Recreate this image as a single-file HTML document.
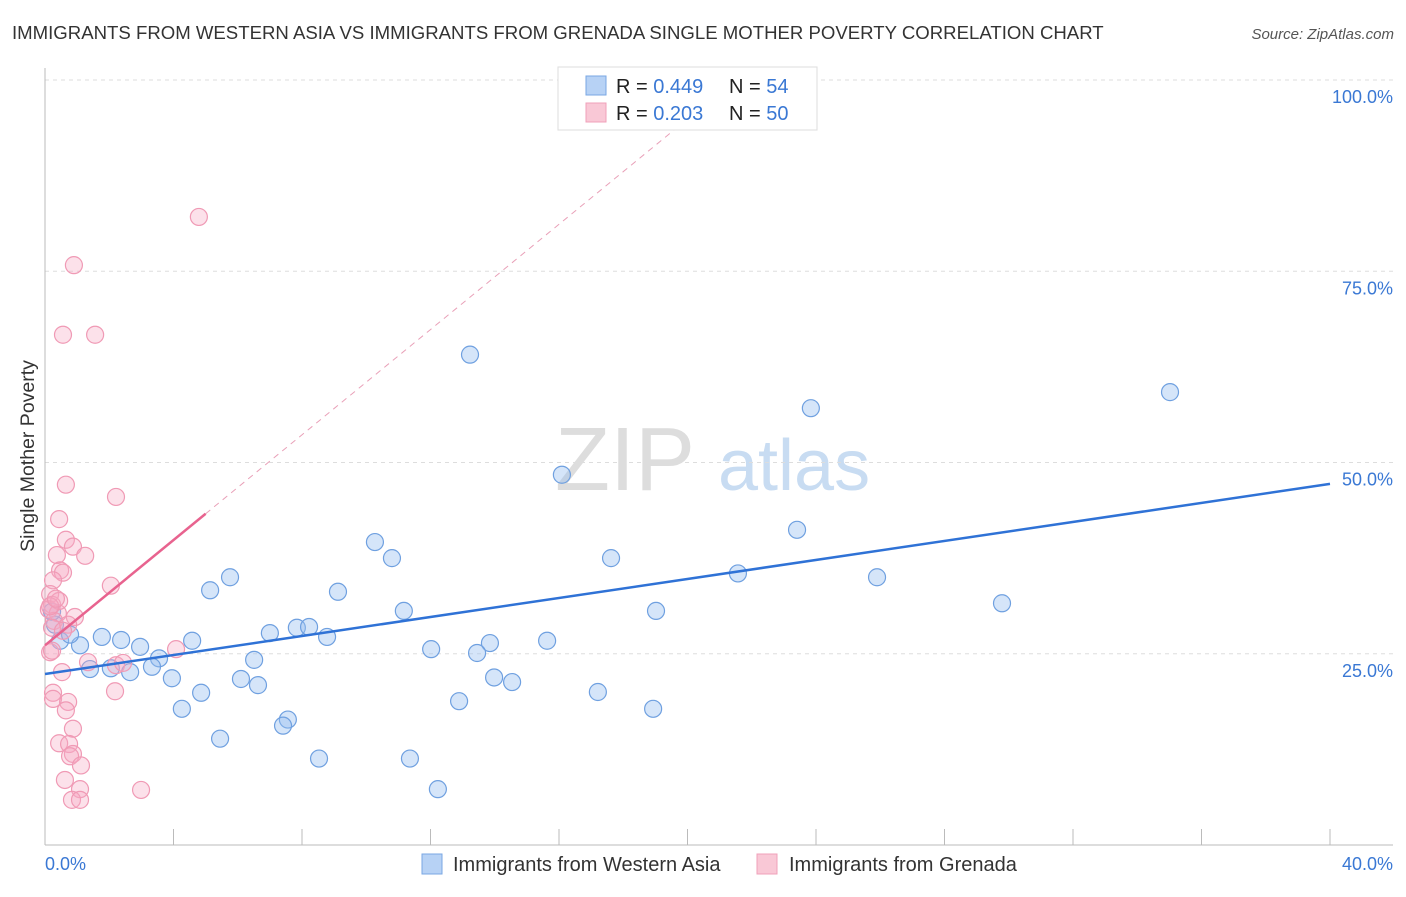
<!DOCTYPE html>
<html><head><meta charset="utf-8"><style>
body{margin:0;background:#fff;font-family:"Liberation Sans",sans-serif;}
svg text{font-family:"Liberation Sans",sans-serif;}
</style></head><body>
<svg id="c" width="1406" height="892">
<text x="12" y="39" font-size="18.6" fill="#333">IMMIGRANTS FROM WESTERN ASIA VS IMMIGRANTS FROM GRENADA SINGLE MOTHER POVERTY CORRELATION CHART</text>
<text x="1394" y="39" font-size="15" fill="#555" font-style="italic" text-anchor="end">Source: ZipAtlas.com</text>
<text x="34" y="456" font-size="19.5" fill="#333" text-anchor="middle" transform="rotate(-90 34 456)">Single Mother Poverty</text>
<text x="555" y="490" font-size="90" fill="#ddd" font-family="Liberation Serif">ZIP</text>
<text x="718" y="490" font-size="72" fill="#c8dcf2">atlas</text>
<g id="grid"></g><g id="pts"></g><g id="lines"></g>
<g>
<rect x="558" y="67" width="259" height="63" fill="#fff" stroke="#ddd"/>
<rect x="586" y="76" width="20" height="19" fill="#b7d2f5" stroke="#7aa7e3"/>
<rect x="586" y="103" width="20" height="19" fill="#f9c8d6" stroke="#f0a0ba"/>
<text x="616" y="93" font-size="20" fill="#222">R = <tspan fill="#3a78d4">0.449</tspan></text>
<text x="729" y="93" font-size="20" fill="#222">N = <tspan fill="#3a78d4">54</tspan></text>
<text x="616" y="120" font-size="20" fill="#222">R = <tspan fill="#3a78d4">0.203</tspan></text>
<text x="729" y="120" font-size="20" fill="#222">N = <tspan fill="#3a78d4">50</tspan></text>
</g>
<g>
<rect x="422" y="854" width="20" height="20" fill="#b7d2f5" stroke="#7aa7e3"/>
<text x="453" y="871" font-size="20" fill="#333">Immigrants from Western Asia</text>
<rect x="757" y="854" width="20" height="20" fill="#f9c8d6" stroke="#f0a0ba"/>
<text x="789" y="871" font-size="20" fill="#333">Immigrants from Grenada</text>
</g>
</svg>
<script>
const xTickLabels=["0.0%","40.0%"];
const yTicks=[25,50,75,100];
const yTickLabels=["25.0%","50.0%","75.0%","100.0%"];
const blueX=[13.23,16.09,23.84,35.02,23.41,10.27,10.80,17.62,21.57,25.90,5.76,5.14,9.12,11.17,19.02,29.79,7.00,7.84,8.22,8.78,1.77,2.37,4.58,15.63,13.85,12.02,13.45,2.96,1.09,0.47,0.78,3.55,6.51,2.05,1.40,3.33,2.65,3.95,6.10,6.63,13.98,14.54,17.21,4.86,4.26,18.93,12.89,5.45,7.56,7.41,8.53,11.36,12.23,0.31,0.22];
const blueY=[64.1,48.4,57.1,59.2,41.2,39.6,37.5,37.5,35.5,35.0,35.0,33.3,33.1,30.6,30.6,31.6,27.7,28.4,28.5,27.2,27.2,26.8,26.7,26.7,26.4,25.6,25.1,25.9,26.1,26.7,27.5,24.4,24.2,23.1,23.0,23.3,22.6,21.8,21.7,20.9,21.9,21.3,20.0,19.9,17.8,17.8,18.8,13.9,16.4,15.6,11.3,11.3,7.3,28.8,30.5];
const pinkX=[4.79,0.90,0.56,1.56,0.65,2.21,0.44,0.65,0.87,1.25,0.37,0.47,0.56,0.25,2.05,0.16,0.22,0.12,0.40,0.93,0.28,0.72,0.22,0.56,4.08,0.16,0.22,1.34,2.21,2.43,0.53,2.18,0.25,0.25,0.72,0.65,0.87,0.44,0.75,0.87,0.78,1.12,0.62,1.09,2.99,0.84,1.09,0.44,0.16,0.34];
const pinkY=[82.1,75.8,66.7,66.7,47.1,45.5,42.6,39.9,39.0,37.8,37.9,35.9,35.6,34.6,33.9,32.8,31.4,30.8,30.3,29.8,29.3,28.8,28.4,28.0,25.6,25.2,25.4,23.9,23.5,23.8,22.6,20.1,19.9,19.1,18.7,17.6,15.2,13.3,13.2,11.9,11.6,10.4,8.5,7.3,7.2,5.9,5.9,31.9,31.2,32.2];
const blueTrend=[22.35,47.2];
const pinkTrend=[26.1,43.3];
const X=v=>45+v*32.125, Y=v=>845-v*7.65;
const NS="http://www.w3.org/2000/svg";
function mk(p,t,a){const e=document.createElementNS(NS,t);for(const k in a)e.setAttribute(k,a[k]);p.appendChild(e);return e;}
const g=document.getElementById('grid');
yTicks.forEach((t,i)=>{
 const l=mk(g,'line',{x1:45,x2:1393,y1:Y(t),y2:Y(t),stroke:'#ddd','stroke-dasharray':'4 4'});
 
 
 const tx=mk(g,'text',{x:1393,y:Y(t)+23,'font-size':18,fill:'#3a78d4','text-anchor':'end'});tx.textContent=yTickLabels[i];
 
 
});
const ax=mk(g,'line',{x1:45,x2:1393,y1:845,y2:845,stroke:'#bbb'});


const ay=mk(g,'line',{x1:45,x2:45,y1:68,y2:845,stroke:'#bbb'});


for(let v=4;v<=40;v+=4){const t=mk(g,'line',{x1:X(v),x2:X(v),y1:829,y2:845,stroke:'#bbb'});
 
 }
[[0,'start',45],[40,'end',1393]].forEach((d,i)=>{const t=mk(g,'text',{x:d[2],y:870,'font-size':18,fill:'#3a78d4','text-anchor':d[1]});t.textContent=xTickLabels[i];
 
 });
const p=document.getElementById('pts');
blueX.forEach((x,i)=>{const c=mk(p,'circle',{cx:X(x),cy:Y(blueY[i]),r:8.5,fill:'rgba(150,190,240,0.4)',stroke:'#6fa0e0','stroke-width':1.2});
 
 });
pinkX.forEach((x,i)=>{const c=mk(p,'circle',{cx:X(x),cy:Y(pinkY[i]),r:8.5,fill:'rgba(245,170,195,0.35)',stroke:'#f09ab5','stroke-width':1.2});
 
 });
const L=document.getElementById('lines');
const bl=mk(L,'line',{x1:X(0),y1:Y(blueTrend[0]),x2:X(40),y2:Y(blueTrend[1]),stroke:'#2f72d6','stroke-width':2.5});


const s=(pinkTrend[1]-pinkTrend[0])/5;
const xe=(100-pinkTrend[0])/s;
const pd=mk(L,'line',{x1:X(5),y1:Y(pinkTrend[1]),x2:X(xe),y2:Y(100),stroke:'#e9a0b8','stroke-width':1,'stroke-dasharray':'6 5'});


const pl=mk(L,'line',{x1:X(0),y1:Y(pinkTrend[0]),x2:X(5),y2:Y(pinkTrend[1]),stroke:'#e8638f','stroke-width':2.5});


</script>
</body></html>
